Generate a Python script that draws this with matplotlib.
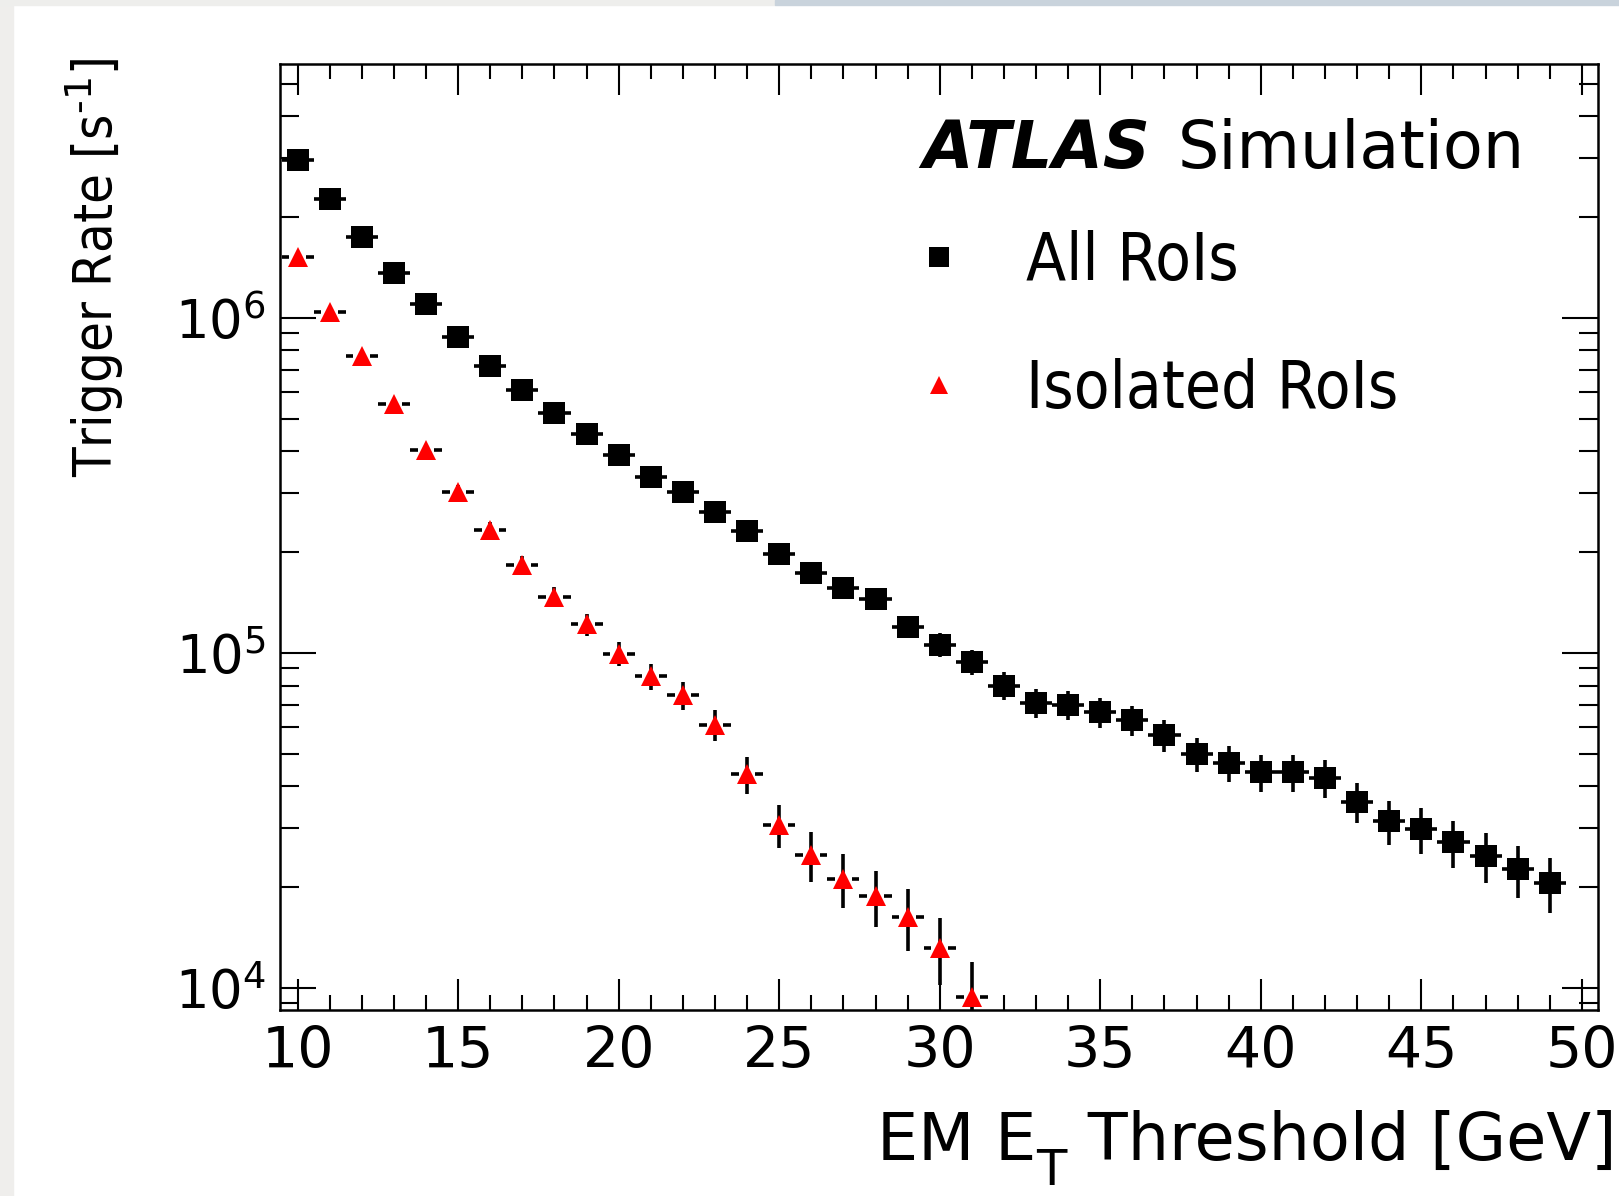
import numpy as np
import matplotlib
matplotlib.use("Agg")
import matplotlib.pyplot as plt
from matplotlib.lines import Line2D
from matplotlib.patches import Rectangle
from matplotlib.ticker import MultipleLocator, LogLocator, NullFormatter, FixedLocator, FixedFormatter

# ------------------------------- dados -------------------------------

et_all = [10, 11, 12, 13, 14, 15, 16, 17, 18, 19, 20, 21, 22, 23, 24, 25, 26, 27, 28, 29,
          30, 31, 32, 33, 34, 35, 36, 37, 38, 39, 40, 41, 42, 43, 44, 45, 46, 47, 48, 49]
rate_all = [2.96e6, 2.26e6, 1.74e6, 1.36e6, 1.10e6, 8.8e5, 7.2e5, 6.1e5, 5.2e5, 4.5e5,
            3.9e5, 3.35e5, 3.03e5, 2.63e5, 2.32e5, 1.98e5, 1.73e5, 1.56e5, 1.45e5, 1.20e5,
            1.06e5, 9.4e4, 8.0e4, 7.1e4, 7.0e4, 6.65e4, 6.3e4, 5.7e4, 5.0e4, 4.7e4,
            4.4e4, 4.4e4, 4.25e4, 3.6e4, 3.15e4, 2.98e4, 2.72e4, 2.48e4, 2.26e4, 2.06e4]
err_all = [4.55e4, 3.98e4, 3.49e4, 3.09e4, 2.77e4, 2.48e4, 2.24e4, 2.07e4, 1.91e4, 1.77e4,
           1.65e4, 1.53e4, 1.46e4, 1.36e4, 1.27e4, 1.18e4, 1.10e4, 1.04e4, 1.01e4, 9.2e3,
           8.6e3, 8.1e3, 7.5e3, 7.0e3, 7.0e3, 6.8e3, 6.6e3, 6.3e3, 5.9e3, 5.7e3,
           5.5e3, 5.5e3, 5.45e3, 5.0e3, 4.7e3, 4.6e3, 4.4e3, 4.2e3, 4.0e3, 3.8e3]

et_iso = [10, 11, 12, 13, 14, 15, 16, 17, 18, 19, 20, 21, 22, 23, 24, 25, 26, 27, 28, 29, 30, 31]
rate_iso = [1.52e6, 1.04e6, 7.7e5, 5.55e5, 4.03e5, 3.02e5, 2.33e5, 1.83e5, 1.47e5, 1.22e5,
            9.96e4, 8.53e4, 7.5e4, 6.1e4, 4.35e4, 3.07e4, 2.5e4, 2.12e4, 1.88e4, 1.63e4,
            1.32e4, 9.4e3]
err_iso = [3.26e4, 2.70e4, 2.32e4, 1.97e4, 1.68e4, 1.45e4, 1.28e4, 1.13e4, 1.01e4, 9.2e3,
           8.35e3, 7.7e3, 7.2e3, 6.5e3, 5.5e3, 4.6e3, 4.2e3, 3.85e3, 3.6e3, 3.4e3,
           3.0e3, 2.6e3]

labels = ["All RoIs", "Isolated RoIs"]
ytick_vals = [1e4, 1e5, 1e6]
ytick_txt = [r"$10^{4}$", r"$10^{5}$", r"$10^{6}$"]

# ------------------------------- estilo -------------------------------

plt.rcParams['font.family'] = 'DejaVu Sans'
plt.rcParams['mathtext.fontset'] = 'dejavusans'

W, H = 1619, 1196
fig = plt.figure(figsize=(W / 100, H / 100), dpi=100)
fig.patch.set_facecolor('white')
# bordas cinzas da captura de tela
fig.patches.append(Rectangle((0, 0), 13 / W, 1, transform=fig.transFigure,
                             color='#efeeec', zorder=-1))
fig.patches.append(Rectangle((0, 1 - 5 / H), 775 / W, 5 / H,
                             transform=fig.transFigure, color='#eeeeec', zorder=-1))
fig.patches.append(Rectangle((775 / W, 1 - 5 / H), 1, 5 / H,
                             transform=fig.transFigure, color='#c9d3dc', zorder=-1))

ax = fig.add_axes([0.1729, 0.1555, 0.8141, 0.791])
ax.set_yscale('log')


def pontos(x, y, err, marker, cor, ms):
    x = np.asarray(x, dtype=float)
    y = np.asarray(y, dtype=float)
    gap = 0.26
    lw = 2.6
    ax.errorbar(x, y, yerr=err, fmt='none', ecolor='k', elinewidth=lw, capsize=0, zorder=2)
    ax.hlines(y, x - 0.5, x - gap, colors='k', linewidth=lw, zorder=2)
    ax.hlines(y, x + gap, x + 0.5, colors='k', linewidth=lw, zorder=2)
    ax.plot(x, y, ls='none', marker=marker, color=cor, ms=ms, mew=0, zorder=3)


pontos(et_all, rate_all, err_all, 's', 'k', 16.5)
pontos(et_iso, rate_iso, err_iso, '^', 'red', 14)

ax.set_xlim(9.45, 50.5)
ax.set_ylim(8600, 5.73e6)

ax.xaxis.set_major_locator(MultipleLocator(5))
ax.xaxis.set_minor_locator(MultipleLocator(1))
ax.yaxis.set_major_locator(FixedLocator(ytick_vals))
ax.yaxis.set_major_formatter(FixedFormatter(ytick_txt))
ax.yaxis.set_minor_locator(LogLocator(base=10, subs=np.arange(2, 10)))
ax.yaxis.set_minor_formatter(NullFormatter())

ax.tick_params(which='both', direction='in', top=True, right=True, width=1.5, colors='k')
ax.tick_params(axis='x', which='major', length=22, labelsize=41, pad=11)
ax.tick_params(axis='x', which='minor', length=11)
ax.tick_params(axis='y', which='major', length=26, labelsize=38, pad=10)
ax.tick_params(axis='y', which='minor', length=14)
for s in ax.spines.values():
    s.set_linewidth(1.8)

# ------------------------------- textos -------------------------------

fig.text(95 / W, 1 - 57 / H, r"Trigger Rate [s$^{\text{-}1}$]", rotation=90,
         ha='center', va='top', fontsize=39, fontstretch='condensed')

# titulo do eixo x montado em partes para o E_T no estilo ROOT
fs = 47
yb = 1 - 1160 / H
r = fig.canvas.get_renderer()
t3 = fig.text(1616 / W, yb, " Threshold [GeV]", ha='right', va='baseline', fontsize=fs)
x_t = t3.get_window_extent(r).x0 / W
t2 = fig.text(x_t, yb - 0.38 * fs / 72 * 100 / H, "T", ha='right', va='baseline',
              fontsize=fs * 0.76)
x_e = t2.get_window_extent(r).x0 / W
fig.text(x_e, yb, "EM E", ha='right', va='baseline', fontsize=fs)

ax.text(0.487, 0.89, "ATLAS", transform=ax.transAxes, fontsize=47, weight='bold',
        style='italic', va='baseline')
ax.text(0.681, 0.89, "Simulation", transform=ax.transAxes, fontsize=47, va='baseline')

h1 = Line2D([], [], ls='none', marker='s', color='k', ms=15, mew=0)
h2 = Line2D([], [], ls='none', marker='^', color='red', ms=13, mew=0)
ax.legend([h1, h2], labels, loc='upper left', bbox_to_anchor=(0.488, 0.825),
          frameon=False, prop=dict(size=47, stretch='condensed'), handlelength=0.5,
          handletextpad=1.08, labelspacing=0.98, borderaxespad=0, borderpad=0)

fig.savefig('out.png', dpi=100)
